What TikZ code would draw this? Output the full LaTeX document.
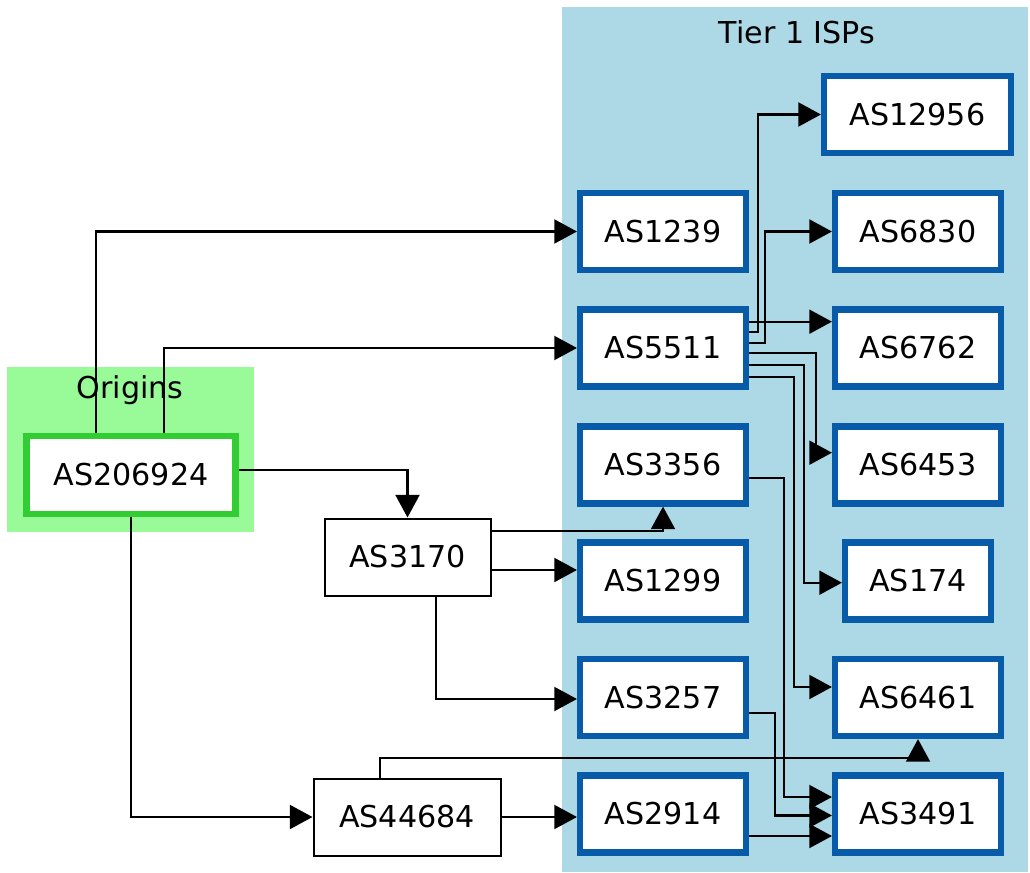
\documentclass[tikz,border=0pt]{standalone}
\usepackage{fontspec}
\setmainfont{DejaVu Sans}
\usetikzlibrary{arrows.meta}
\definecolor{tierbg}{HTML}{ADD8E6}
\definecolor{origbg}{HTML}{98FB98}
\definecolor{tierbd}{HTML}{075BA8}
\definecolor{origbd}{HTML}{32CD32}
\begin{document}
\begin{tikzpicture}[x=0.75pt,y=-0.75pt,
  lbl/.style={font=\fontsize{22.6}{26}\selectfont},
  tbox/.style={draw=tierbd,line width=4.6pt,fill=white,minimum width=124.5pt,minimum height=57.75pt,inner sep=0pt,lbl},
  obox/.style={draw=origbd,line width=4.8pt,fill=white,minimum width=156.75pt,minimum height=58.5pt,inner sep=0pt,lbl},
  pbox/.style={draw=black,line width=1.5pt,fill=white,minimum width=124.5pt,minimum height=57.75pt,inner sep=0pt,lbl},
  arr/.style={line width=1.6pt,-{Triangle[length=17pt,width=18pt]}}]
\useasboundingbox (0,0) rectangle (1030,873);
% clusters
\fill[tierbg] (561.7,7.3) rectangle (1028,872);
\node[lbl] (tiertitle) at (797,32) {Tier 1 ISPs};
\fill[origbg] (7.3,367) rectangle (254,531.7);
\node[lbl] (origtitle) at (130,390) {Origins};
% nodes
\node[tbox,minimum width=140.25pt] (AS12956) at (917.5,114.5) {AS12956};
\node[tbox] (AS1239) at (663,231.5) {AS1239};
\node[tbox] (AS6830) at (918,231.5) {AS6830};
\node[tbox] (AS5511) at (663,348) {AS5511};
\node[tbox] (AS6762) at (918,348) {AS6762};
\node[tbox] (AS3356) at (663,465) {AS3356};
\node[tbox] (AS6453) at (918,465) {AS6453};
\node[tbox] (AS1299) at (663,581) {AS1299};
\node[tbox,minimum width=109.5pt] (AS174) at (918,581) {AS174};
\node[tbox] (AS3257) at (663,697.5) {AS3257};
\node[tbox] (AS6461) at (918,697.5) {AS6461};
\node[tbox] (AS2914) at (663,814) {AS2914};
\node[tbox] (AS3491) at (918,814) {AS3491};
\node[obox] (AS206924) at (131,475) {AS206924};
\node[pbox] (AS3170) at (407.5,557) {AS3170};
\node[pbox,minimum width=140.25pt] (AS44684) at (407,817) {AS44684};
% edges
\draw[arr] (96,0 |- AS206924.north) |- (AS1239.west);
\draw[arr] (164,0 |- AS206924.north) |- (AS5511.west);
\draw[arr] (AS206924.east |- 0,470) -| (AS3170.north);
\draw[arr] (AS206924.south) |- (AS44684.west);
\draw[arr] (AS3170.east |- 0,530.7) -| (AS3356.south);
\draw[arr] (AS3170.east |- 0,570) -- (AS1299.west |- 0,570);
\draw[arr] (436,0 |- AS3170.south) |- (AS3257.west |- 0,699);
\draw[arr] (AS44684.east) -- (AS2914.west |- AS44684.east);
\draw[arr] (380,0 |- AS44684.north) -- (380,757.7) -| (AS6461.south);
\draw[arr] (AS5511.east |- 0,321.7) -- (AS6762.west |- 0,321.7);
\draw[arr] (AS5511.east |- 0,332.3) -| (758,0 |- AS12956.west) -- (AS12956.west);
\draw[arr] (AS5511.east |- 0,342.7) -| (765,0 |- AS6830.west) -- (AS6830.west);
\draw[arr] (AS5511.east |- 0,353.3) -| (816,452.7) -- (AS6453.west |- 0,452.7);
\draw[arr] (AS5511.east |- 0,365) -| (804,582.7) -- (AS174.west |- 0,582.7);
\draw[arr] (AS5511.east |- 0,376.7) -| (794,687) -- (AS6461.west |- 0,687);
\draw[arr] (AS3356.east |- 0,478) -| (784,797) -- (AS3491.west |- 0,797);
\draw[arr] (AS3257.east |- 0,713) -| (775,815.5) -- (AS3491.west |- 0,815.5);
\draw[arr] (AS2914.east |- 0,836) -- (AS3491.west |- 0,836);
\end{tikzpicture}
\end{document}
